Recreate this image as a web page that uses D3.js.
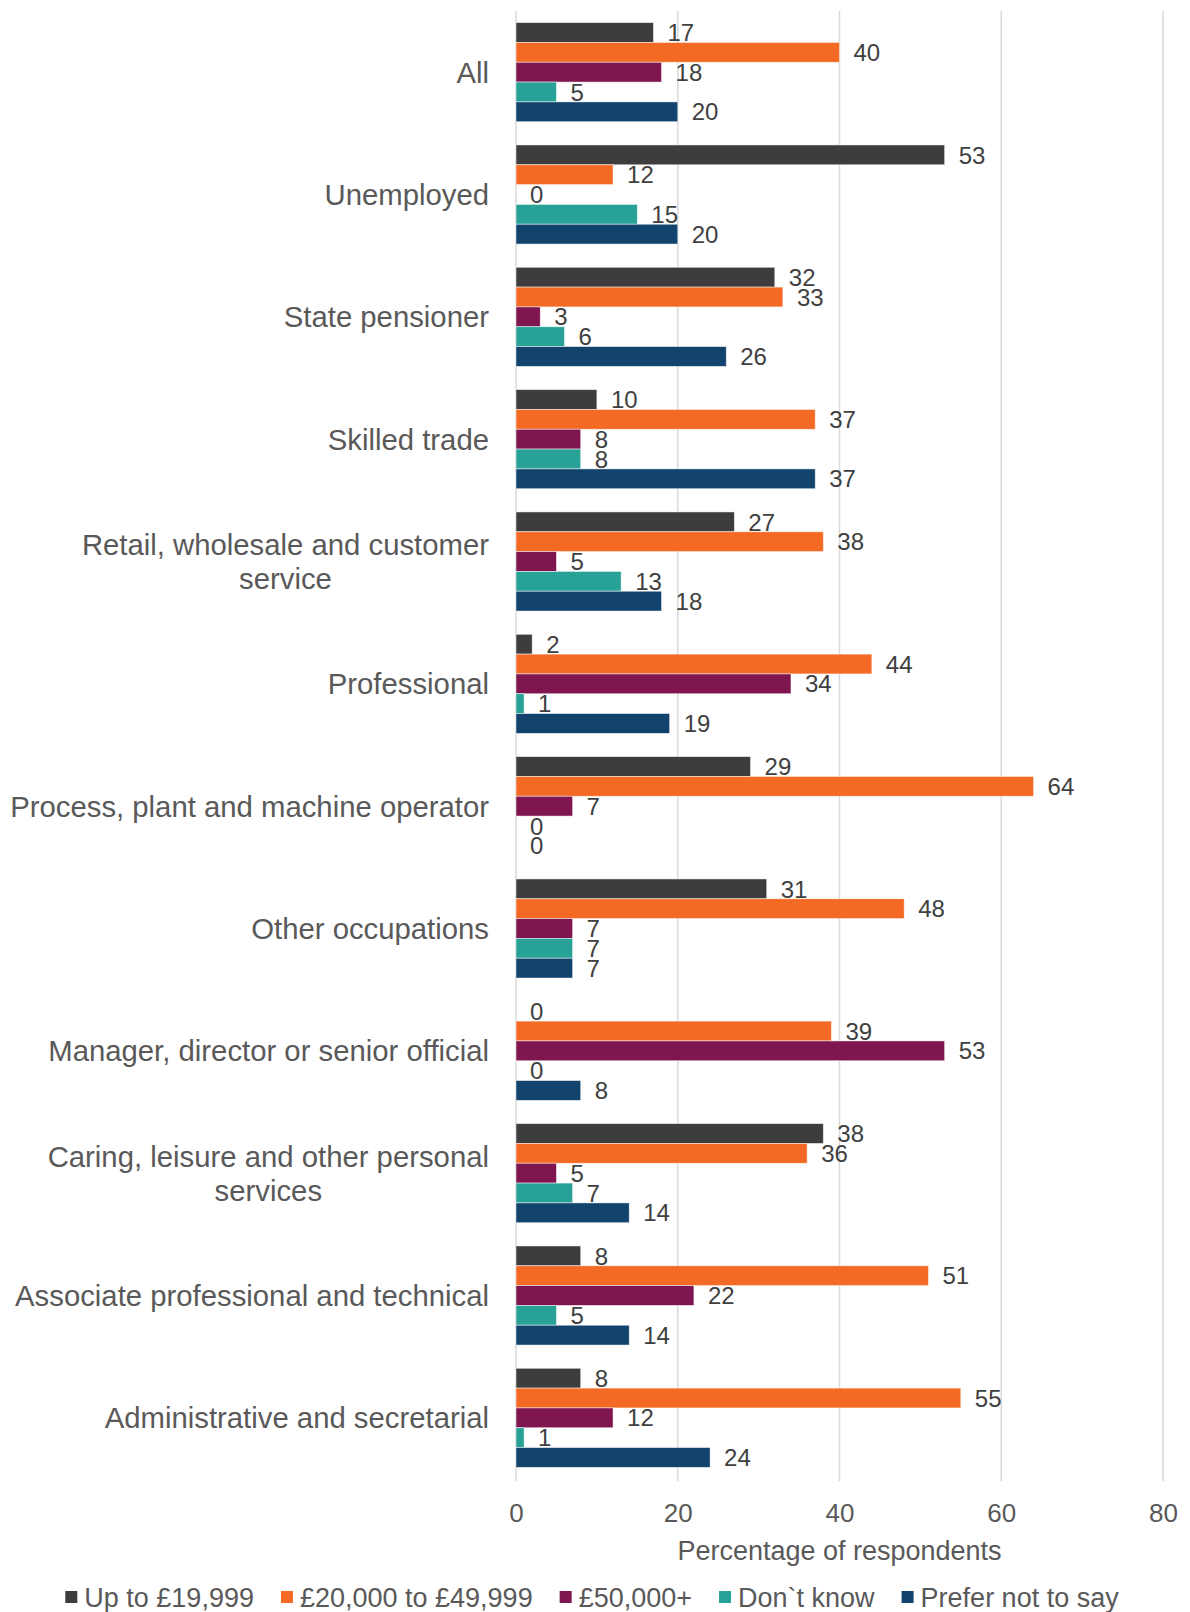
<!DOCTYPE html>
<html>
<head>
<meta charset="utf-8">
<script src="https://cdn.jsdelivr.net/npm/d3@7"></script>
<style>
  html, body { margin: 0; padding: 0; background: #fff; }
  svg { display: block; font-family: "Liberation Sans", Arial, sans-serif; }
</style>
</head>
<body>
<svg id="chart" width="1190" height="1612"></svg>
<script>
// Occupation groups (top to bottom)
const categories = [
  "All",
  "Unemployed",
  "State pensioner",
  "Skilled trade",
  "Retail, wholesale and customer service",
  "Professional",
  "Process, plant and machine operator",
  "Other occupations",
  "Manager, director or senior official",
  "Caring, leisure and other personal services",
  "Associate professional and technical",
  "Administrative and secretarial"
];

// Household income bands
const seriesNames = ["Up to £19,999", "£20,000 to £49,999", "£50,000+", "Don`t know", "Prefer not to say"];
const seriesColors = ["#3D3D3D", "#F46A25", "#801650", "#28A197", "#12436D"];

// Percentage of respondents per income band, in category order
const upTo19999   = [17, 53, 32, 10, 27, 2, 29, 31, 0, 38, 8, 8];
const from20kTo49k = [40, 12, 33, 37, 38, 44, 64, 48, 39, 36, 51, 55];
const over50k     = [18, 0, 3, 8, 5, 34, 7, 7, 53, 5, 22, 12];
const dontKnow    = [5, 15, 6, 8, 13, 1, 0, 7, 0, 7, 5, 1];
const preferNot   = [20, 20, 26, 37, 18, 19, 0, 7, 8, 14, 14, 24];

const xTicks = [0, 20, 40, 60, 80];
const xTitle = "Percentage of respondents";

const seriesValues = [upTo19999, from20kTo49k, over50k, dontKnow, preferNot];
const rows = categories.map((c, i) => ({
  category: c,
  values: seriesNames.map((s, j) => ({ series: s, value: seriesValues[j][i], color: seriesColors[j] }))
}));

const svg = d3.select("#chart");

const x = d3.scaleLinear().domain([0, 80]).range([516, 1163]);
const y0 = d3.scaleBand().domain(categories).range([11, 1479]).paddingInner(0.19).paddingOuter(0.095);
const y1 = d3.scaleBand().domain(seriesNames).range([0, y0.bandwidth()]);

// Vertical gridlines
svg.append("g")
  .selectAll("line")
  .data(xTicks)
  .join("line")
  .attr("x1", d => x(d)).attr("x2", d => x(d))
  .attr("y1", 11).attr("y2", 1481)
  .attr("stroke", "#d9d9d9")
  .attr("stroke-width", 1.5);

// X axis tick labels
const xAxis = svg.append("g")
  .attr("transform", "translate(0,1479)")
  .call(d3.axisBottom(x).tickValues(xTicks).tickSize(0).tickPadding(25).tickFormat(d3.format("d")));
xAxis.select(".domain").remove();
xAxis.selectAll("text")
  .attr("font-size", 26)
  .attr("font-family", "Liberation Sans, Arial, sans-serif")
  .attr("fill", "#595959");

// Axis title
svg.append("text")
  .attr("x", x(40))
  .attr("y", 1560)
  .attr("text-anchor", "middle")
  .attr("font-size", 27)
  .attr("fill", "#595959")
  .text(xTitle);

// Bars and value labels
const groups = svg.append("g")
  .selectAll("g")
  .data(rows)
  .join("g")
  .attr("transform", d => `translate(0,${y0(d.category)})`);

groups.selectAll("rect")
  .data(d => d.values)
  .join("rect")
  .attr("x", x(0))
  .attr("y", d => y1(d.series))
  .attr("width", d => x(d.value) - x(0))
  .attr("height", y1.bandwidth())
  .attr("fill", d => d.color)
  .attr("stroke", "#ffffff")
  .attr("stroke-opacity", 0.6)
  .attr("stroke-width", d => d.value > 0 ? 0.8 : 0);

groups.selectAll("text")
  .data(d => d.values)
  .join("text")
  .attr("x", d => x(d.value) + 14)
  .attr("y", d => y1(d.series) + y1.bandwidth() / 2)
  .attr("dy", "0.36em")
  .attr("font-size", 24)
  .attr("fill", "#404040")
  .text(d => d.value);

// Category labels, wrapped and centred as a block against the axis
const labelRight = 489;
const labelMaxWidth = 492;
const labelLineHeight = 34;
const labelSize = 29.3;
const measure = svg.append("text").attr("font-size", labelSize).attr("visibility", "hidden");
function textWidth(s) { measure.text(s); return measure.node().getComputedTextLength(); }
function wrap(s) {
  const words = s.split(" ");
  const lines = [];
  let line = words[0];
  for (let i = 1; i < words.length; i++) {
    const trial = line + " " + words[i];
    if (textWidth(trial) > labelMaxWidth) { lines.push(line); line = words[i]; }
    else line = trial;
  }
  lines.push(line);
  return lines;
}

const labels = svg.append("g");
categories.forEach(c => {
  const lines = wrap(c);
  const w = d3.max(lines, textWidth);
  const cy = y0(c) + y0.bandwidth() / 2;
  const t = labels.append("text")
    .attr("font-size", labelSize)
    .attr("fill", "#595959")
    .attr("text-anchor", lines.length > 1 ? "middle" : "end");
  lines.forEach((ln, k) => {
    t.append("tspan")
      .attr("x", lines.length > 1 ? labelRight - w / 2 : labelRight)
      .attr("y", cy + (k - (lines.length - 1) / 2) * labelLineHeight)
      .attr("dy", "0.36em")
      .text(ln);
  });
});
measure.remove();

// Legend
const legend = svg.append("g");
const items = legend.selectAll("g")
  .data(seriesNames)
  .join("g");
items.append("rect")
  .attr("width", 12).attr("height", 12)
  .attr("y", -6)
  .attr("fill", (d, i) => seriesColors[i]);
items.append("text")
  .attr("x", 19)
  .attr("dy", "0.36em")
  .attr("font-size", 27)
  .attr("fill", "#595959")
  .text(d => d);
let cursor = 0;
const offsets = [];
items.each(function() {
  offsets.push(cursor);
  const w = d3.select(this).select("text").node().getComputedTextLength();
  cursor += 19 + w + 27;
});
const totalWidth = cursor - 27;
const legendLeft = 592 - totalWidth / 2;
items.attr("transform", (d, i) => `translate(${legendLeft + offsets[i]},1597)`);
</script>
</body>
</html>
